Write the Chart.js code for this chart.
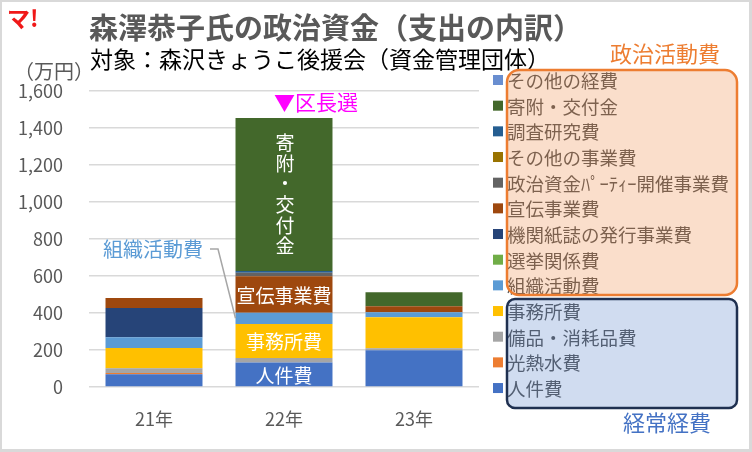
<!DOCTYPE html>
<html lang="ja">
<head>
<meta charset="utf-8">
<script src="https://cdn.jsdelivr.net/npm/chart.js@4.4.0/dist/chart.umd.min.js"></script>
<style>
  html, body { margin: 0; padding: 0; background: #fff; }
  #wrap { width: 752px; height: 452px; position: relative; }
</style>
</head>
<body>
<div id="wrap"><canvas id="chart" width="752" height="452"></canvas></div>
<script>
// 年度（万円）
var years = ['21年', '22年', '23年'];
var yTicks = [0, 200, 400, 600, 800, 1000, 1200, 1400, 1600];

// stack order: bottom -> top
var jinkenhi    = [69, 133, 198];   // 人件費
var kounetsu    = [7, 0, 0];        // 光熱水費
var bihin       = [25, 24, 11];     // 備品・消耗品費
var jimusho     = [110, 184, 168];  // 事務所費
var soshiki     = [58, 61, 27];     // 組織活動費
var senkyo      = [0, 0, 0];        // 選挙関係費
var kikanshi    = [158, 0, 0];      // 機関紙誌の発行事業費
var senden      = [54, 196, 32];    // 宣伝事業費
var party       = [0, 20, 0];       // 政治資金パーティー開催事業費
var sonotaJigyo = [0, 0, 0];        // その他の事業費
var chousa      = [0, 9, 0];        // 調査研究費
var kifu        = [0, 827, 76];     // 寄附・交付金
var sonotaKeihi = [0, 0, 0];        // その他の経費

var seriesNames = ['人件費', '光熱水費', '備品・消耗品費', '事務所費', '組織活動費', '選挙関係費',
  '機関紙誌の発行事業費', '宣伝事業費', '政治資金ﾊﾟｰﾃｨｰ開催事業費', 'その他の事業費',
  '調査研究費', '寄附・交付金', 'その他の経費'];
var seriesValues = [jinkenhi, kounetsu, bihin, jimusho, soshiki, senkyo, kikanshi, senden,
  party, sonotaJigyo, chousa, kifu, sonotaKeihi];
var seriesColors = ['#4472C4', '#ED7D31', '#A5A5A5', '#FFC000', '#5B9BD5', '#70AD47',
  '#264478', '#9E480E', '#636363', '#997300', '#255E91', '#43682B', '#698ED0'];

// labels written inside the 22年 bar: [series index, text, vertical?]
var barLabels = [[0, '人件費', false], [3, '事務所費', false], [7, '宣伝事業費', false], [11, '寄附・交付金', true]];

var FONT = "'Noto Sans CJK JP', 'Noto Sans', sans-serif";
var GRAY = '#595959';

function roundRect(ctx, x, y, w, h, r) {
  ctx.beginPath();
  ctx.moveTo(x + r, y);
  ctx.lineTo(x + w - r, y);
  ctx.arcTo(x + w, y, x + w, y + r, r);
  ctx.lineTo(x + w, y + h - r);
  ctx.arcTo(x + w, y + h, x + w - r, y + h, r);
  ctx.lineTo(x + r, y + h);
  ctx.arcTo(x, y + h, x, y + h - r, r);
  ctx.lineTo(x, y + r);
  ctx.arcTo(x, y, x + r, y, r);
  ctx.closePath();
}

var decor = {
  id: 'decor',
  beforeDraw: function(chart) {
    var ctx = chart.ctx;
    ctx.save();
    ctx.fillStyle = '#fff';
    ctx.fillRect(0, 0, chart.width, chart.height);
    ctx.restore();
  },
  afterDraw: function(chart) {
    var ctx = chart.ctx;
    ctx.save();

    // logo + titles
    ctx.textBaseline = 'middle';
    ctx.textAlign = 'left';
    ctx.fillStyle = '#F01818';
    ctx.font = 'bold 23px ' + FONT;
    ctx.fillText('マ!', 7, 18);
    ctx.fillStyle = GRAY;
    ctx.font = 'bold 29px ' + FONT;
    ctx.fillText('森澤恭子氏の政治資金（支出の内訳）', 89, 28);
    ctx.fillStyle = '#000';
    ctx.font = '23px ' + FONT;
    ctx.fillText('対象：森沢きょうこ後援会（資金管理団体）', 90, 59);
    ctx.fillStyle = GRAY;
    ctx.font = '20px ' + FONT;
    ctx.fillText('（万円）', 14, 71);

    // election marker
    ctx.fillStyle = '#FF00FF';
    ctx.font = '21px ' + FONT;
    ctx.fillText('▼区長選', 274, 102);

    // labels inside the 22年 bar
    ctx.fillStyle = '#fff';
    ctx.textAlign = 'center';
    barLabels.forEach(function(b) {
      var el = chart.getDatasetMeta(b[0]).data[1];
      var p = el.getProps(['x', 'y', 'base'], true);
      var mid = (p.y + p.base) / 2;
      ctx.font = '19px ' + FONT;
      if (b[2]) {
        var chars = b[1].split('');
        var step = 20.7;
        var start = mid - step * (chars.length - 1) / 2;
        chars.forEach(function(c, k) { ctx.fillText(c, p.x + 1, start + k * step); });
      } else {
        ctx.fillText(b[1], p.x, mid + 1);
      }
    });

    // 組織活動費 callout
    var se = chart.getDatasetMeta(4).data[1].getProps(['x', 'y', 'base', 'width'], true);
    var ex = se.x - se.width / 2, ey = (se.y + se.base) / 2;
    ctx.strokeStyle = '#A6A6A6';
    ctx.lineWidth = 1.5;
    ctx.beginPath();
    ctx.moveTo(210, 249);
    ctx.lineTo(218, 249);
    ctx.lineTo(ex, ey);
    ctx.stroke();
    ctx.fillStyle = '#5B9BD5';
    ctx.font = '20px ' + FONT;
    ctx.textAlign = 'right';
    ctx.fillText('組織活動費', 203, 249);

    // legend (reverse stack order)
    ctx.textAlign = 'left';
    ctx.font = '18.5px ' + FONT;
    var n = seriesNames.length;
    for (var k = 0; k < n; k++) {
      var i = n - 1 - k;
      var cy = 80 + k * 25.67;
      ctx.fillStyle = seriesColors[i];
      ctx.fillRect(493, cy - 5, 10, 10);
      ctx.fillStyle = GRAY;
      ctx.fillText(seriesNames[i], 507, cy + 1);
    }

    // group boxes
    roundRect(ctx, 507, 70, 230, 225, 12);
    ctx.fillStyle = 'rgba(237,125,49,0.25)';
    ctx.fill();
    ctx.strokeStyle = '#ED7D31';
    ctx.lineWidth = 2.5;
    ctx.stroke();
    roundRect(ctx, 507, 299, 230, 109, 8);
    ctx.fillStyle = 'rgba(68,114,196,0.25)';
    ctx.fill();
    ctx.strokeStyle = '#1F3050';
    ctx.lineWidth = 2.5;
    ctx.stroke();

    ctx.font = '22px ' + FONT;
    ctx.fillStyle = '#ED7D31';
    ctx.fillText('政治活動費', 610, 54);
    ctx.fillStyle = '#4472C4';
    ctx.fillText('経常経費', 623, 423);

    // outer frame
    ctx.fillStyle = '#D9D9D9';
    ctx.fillRect(0, 0, 752, 2);
    ctx.fillRect(0, 0, 2, 452);
    ctx.fillRect(749, 0, 3, 452);
    ctx.fillRect(0, 449, 752, 3);
    ctx.restore();
  }
};

var ctx = document.getElementById('chart').getContext('2d');
var chart = new Chart(ctx, {
  type: 'bar',
  data: {
    labels: years,
    datasets: seriesNames.map(function(name, i) {
      return {
        label: name,
        data: seriesValues[i],
        backgroundColor: seriesColors[i],
        borderWidth: 0,
        categoryPercentage: 1,
        barPercentage: 0.746
      };
    })
  },
  options: {
    responsive: false,
    devicePixelRatio: 1,
    animation: false,
    layout: { padding: { left: 0, right: 273, top: 91, bottom: 0 } },
    plugins: {
      legend: { display: false },
      tooltip: { enabled: false },
      title: { display: false }
    },
    scales: {
      x: {
        stacked: true,
        grid: { display: false, drawTicks: false },
        border: { display: false },
        ticks: { color: GRAY, font: { family: FONT, size: 18 }, padding: 21 },
        afterFit: function(s) { s.height = 65; }
      },
      y: {
        stacked: true,
        min: yTicks[0],
        max: yTicks[yTicks.length - 1],
        afterBuildTicks: function(s) { s.ticks = yTicks.map(function(v) { return { value: v }; }); },
        grid: { color: '#D9D9D9', lineWidth: 1.5, drawTicks: false },
        border: { display: false },
        ticks: {
          color: GRAY,
          font: { family: FONT, size: 18 },
          padding: 26,
          callback: function(v) { return v.toLocaleString('en-US'); }
        },
        afterFit: function(s) { s.width = 89; }
      }
    }
  },
  plugins: [decor]
});
</script>
</body>
</html>
